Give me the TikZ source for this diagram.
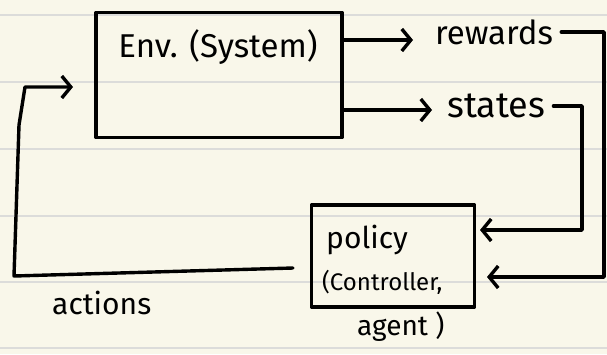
\documentclass[tikz,border=0pt]{standalone}
\usepackage{fontspec}
\setmainfont{Fira Sans}
\usetikzlibrary{arrows.meta}

\definecolor{paper}{RGB}{249,247,234}
\definecolor{rule}{RGB}{220,220,218}

\tikzset{
  ink/.style={line width=3.4pt, line cap=round, line join=round},
  box/.style={ink, draw, rectangle, inner sep=0pt},
  hand/.style={inner sep=0pt, font=\fontsize{32}{34}\selectfont},
  arr/.style={ink, -{Straight Barb[length=9pt,width=22pt]}},
}

\begin{document}
\begin{tikzpicture}[x=1pt,y=-1pt]
% paper and ruled lines
\fill[paper] (0,0) rectangle (607,354);
\useasboundingbox (0,0) rectangle (607,354);
\foreach \y in {15,82,149,216,282,348}
  \draw[rule, line width=1.6pt] (0,\y) -- (607,\y);

% boxes
\node[box, minimum width=246pt, minimum height=125pt] (env) at (219,75) {};
\node[hand, font=\fontsize{33}{35}\selectfont] (envtxt) at (218,47) {Env. (System)};
\node[box, minimum width=163pt, minimum height=102pt] (policy) at (393,256) {};
\node[hand, anchor=west, font=\fontsize{30}{32}\selectfont] (poltxt) at (326,240) {policy};
\node[hand, anchor=west, font=\fontsize{24}{26}\selectfont] (ctrltxt) at (322,282) {(Controller,};
\node[hand, anchor=west, font=\fontsize{28}{30}\selectfont] (agenttxt) at (357,327) {agent )};

% signal labels
\node[hand, anchor=west, font=\fontsize{33}{35}\selectfont] (rewards) at (435,32) {rewards};
\node[hand, anchor=west, font=\fontsize{36}{38}\selectfont] (states) at (447,106) {states};
\node[hand, anchor=west, font=\fontsize{30}{32}\selectfont] (actions) at (52,303) {actions};

% turning points
\coordinate (rewin) at (487,277);
\coordinate (stin) at (480,230);
\coordinate (actout) at (293,268);
\coordinate (actin) at (73,87);

% outputs of the environment
\draw[arr] (env.east |- 0,40) -- (413,40);
\draw[arr] (env.east |- 0,110) -- (432,110);

% feedback to the policy
\draw[arr] ([xshift=8pt]rewards.east) -| (604,277) -- (rewin);
\draw[arr] ([xshift=8pt]states.east) -| (582,230) -- (stin);

% actions back to the environment
\draw[arr] (actout) -- (14,276) -- (19,125) -- (25,87) -- (actin);
\end{tikzpicture}
\end{document}
